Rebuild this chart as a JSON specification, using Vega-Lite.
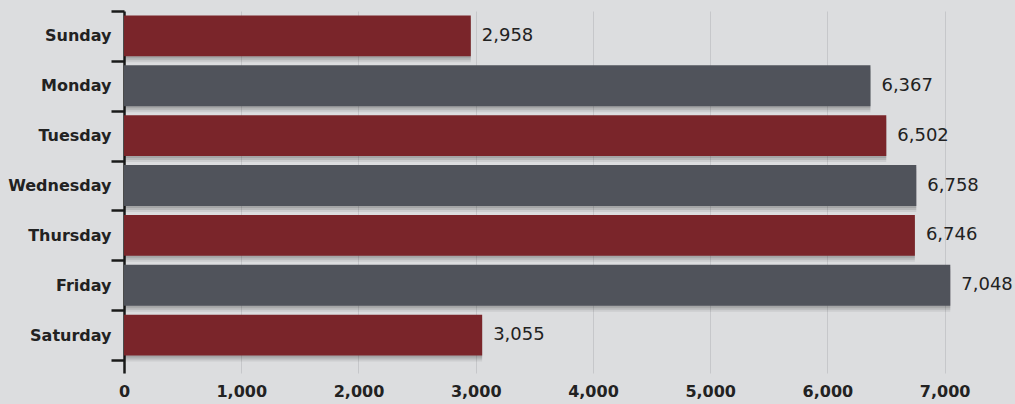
{
  "$schema": "https://vega.github.io/schema/vega-lite/v6.json",
  "autosize": "none",
  "width": 891,
  "height": 362,
  "padding": {"left": 124, "top": 11, "right": 0, "bottom": 31},
  "background": "#dcdddf",
  "config": {"view": {"stroke": null}},
  "data": {"values": [
    {"day": "Sunday", "count": 2958},
    {"day": "Monday", "count": 6367},
    {"day": "Tuesday", "count": 6502},
    {"day": "Wednesday", "count": 6758},
    {"day": "Thursday", "count": 6746},
    {"day": "Friday", "count": 7048},
    {"day": "Saturday", "count": 3055}
  ]},
  "encoding": {
    "y": {
      "field": "day", "type": "nominal", "sort": null,
      "scale": {"paddingInner": 0, "paddingOuter": 0.13, "align": 0},
      "axis": {
        "title": null, "tickBand": "extent", "domainColor": "#1a1a1a", "domainWidth": 2.5,
        "tickColor": "#1a1a1a", "tickWidth": 2.5, "tickSize": 13, "labelPadding": 0,
        "labelFont": "DejaVu Sans", "labelFontWeight": "bold", "labelFontSize": 16, "labelColor": "#222222",
        "grid": false
      }
    },
    "x": {
      "field": "count", "type": "quantitative",
      "scale": {"domain": [0, 7600], "nice": false},
      "axis": {
        "title": null, "values": [0, 1000, 2000, 3000, 4000, 5000, 6000, 7000], "format": ",d",
        "domain": false, "ticks": false, "labelPadding": 10, "labelFlush": false,
        "labelFont": "DejaVu Sans", "labelFontWeight": "bold", "labelFontSize": 16, "labelColor": "#222222",
        "grid": true, "gridColor": "#c6c7ca", "gridWidth": 1
      }
    }
  },
  "layer": [
    {
      "mark": {"type": "bar", "height": {"band": 0.82}, "color": "#000000", "opacity": 0.07, "x2Offset": 10, "yOffset": 6},
      "encoding": {}
    },
    {
      "mark": {"type": "bar", "height": {"band": 0.82}, "color": "#000000", "opacity": 0.1, "x2Offset": 6, "yOffset": 4},
      "encoding": {}
    },
    {
      "mark": {"type": "bar", "height": {"band": 0.82}, "color": "#000000", "opacity": 0.1, "x2Offset": 3, "yOffset": 2},
      "encoding": {}
    },
    {
      "mark": {"type": "bar", "height": {"band": 0.82}},
      "encoding": {
        "color": {
          "field": "day", "type": "nominal", "legend": null,
          "scale": {
            "domain": ["Sunday", "Monday", "Tuesday", "Wednesday", "Thursday", "Friday", "Saturday"],
            "range": ["#7a252a", "#50535b", "#7a252a", "#50535b", "#7a252a", "#50535b", "#7a252a"]
          }
        }
      }
    },
    {
      "mark": {"type": "text", "align": "left", "baseline": "middle", "dx": 11, "font": "DejaVu Sans", "fontSize": 18, "color": "#222222"},
      "encoding": {"text": {"field": "count", "type": "quantitative", "format": ",d"}}
    }
  ]
}
